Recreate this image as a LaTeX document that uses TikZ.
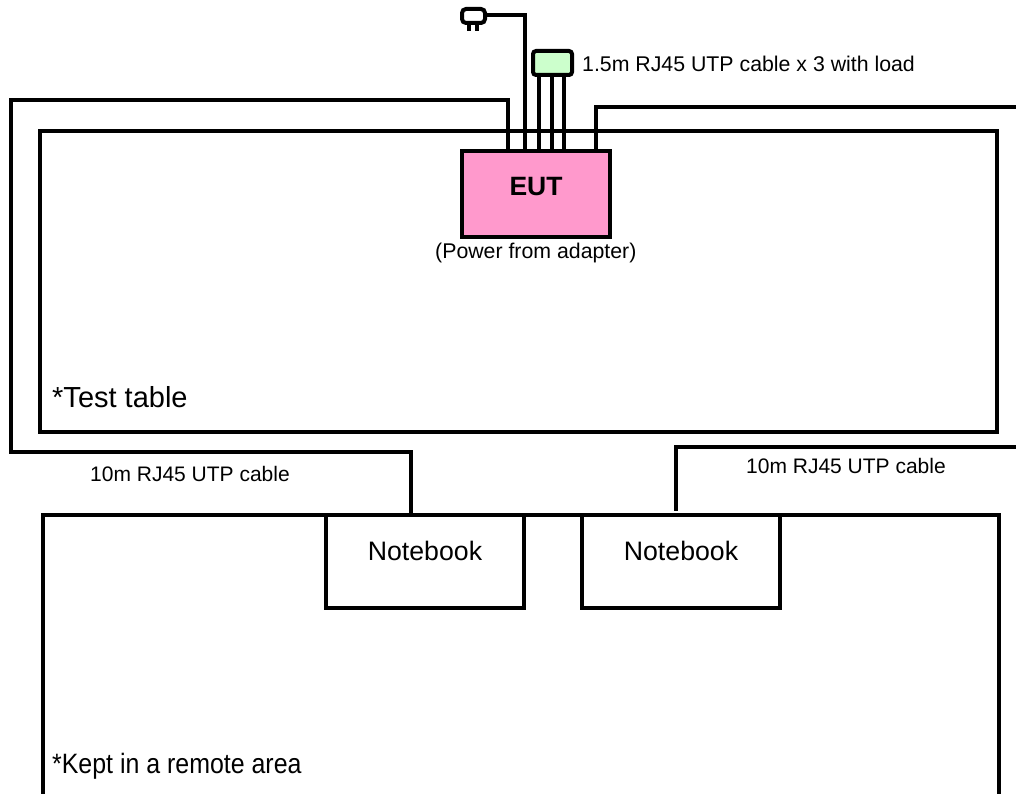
\documentclass[tikz,border=0pt]{standalone}
\usepackage{fontspec}
\setmainfont{Liberation Sans}
\usepackage{tikz}
\usetikzlibrary{positioning}
\definecolor{ColEut}{RGB}{255,153,204}
\definecolor{ColLoad}{RGB}{204,255,204}
\tikzstyle{BoxArea}=[draw=black,line width=4pt,rectangle,inner sep=0pt,outer sep=0pt,anchor=north west]
\tikzstyle{BoxEut}=[BoxArea,fill=ColEut,minimum width=148pt,minimum height=86pt]
\tikzstyle{BoxBook}=[BoxArea,fill=white,minimum width=198pt,minimum height=93pt]
\tikzstyle{BoxLoad}=[BoxArea,fill=ColLoad,rounded corners=3pt,minimum width=39pt,minimum height=24pt]
\tikzstyle{BoxPlug}=[BoxArea,fill=white,rounded corners=4pt,minimum width=23pt,minimum height=14pt]
\tikzstyle{Cable}=[black,line width=4pt,line join=miter]
\tikzstyle{LabelSmall}=[font=\fontsize{21.3}{24}\selectfont,inner sep=0pt,anchor=west]
\tikzstyle{LabelBig}=[font=\fontsize{26.7}{30}\selectfont,inner sep=0pt,anchor=west]

\begin{document}
\begin{tikzpicture}[x=1pt,y=-1pt]
        \useasboundingbox(0,0)rectangle(1016,794);
        \clip(0,0)rectangle(1016,794);
        % areas
        \node[BoxArea,minimum width=957pt,minimum height=301pt](table)at(40,131){};
        \node[BoxArea,minimum width=956pt,minimum height=320pt](remote)at(43,515){};
        \node[LabelBig,font=\fontsize{29}{30}\selectfont](tabletext)at(52,397){*Test table};
        \node[LabelBig,font=\fontsize{28}{30}\selectfont,xscale=.89,transform shape](remotetext)at(52,766){*Kept in a remote area};
        % devices
        \node[BoxBook](nba)at(326,515){};
        \node[BoxBook](nbb)at(582,515){};
        \node[LabelBig,anchor=center](nbatext)at(425,550.5){Notebook};
        \node[LabelBig,anchor=center](nbbtext)at(681,550.5){Notebook};
        \node[BoxLoad](load)at(533,51){};
        \node[BoxPlug](plug)at(462,9){};
        % cables
        \coordinate(lefta)at(508,100);
        \coordinate(leftb)at(11,100);
        \coordinate(leftc)at(11,452);
        \coordinate(leftd)at(411,452);
        \coordinate(righta)at(596,107);
        \coordinate(rightb)at(1020,107);
        \coordinate(lowa)at(1020,447);
        \coordinate(lowb)at(676,447);
        \coordinate(lowc)at(676,511);
        \coordinate(powa)at(525,15);
        \draw[Cable](508,151)--(lefta)--(leftb)--(leftc)--(leftd)--(leftd|-remote.north);
        \draw[Cable](596,151)--(righta)--(rightb);
        \draw[Cable](lowa)--(lowb)--(lowc);
        \draw[Cable](plug.east|-powa)--(powa)--(525,151);
        \draw[Cable](539,75)--(539,151);
        \draw[Cable](552,75)--(552,151);
        \draw[Cable](564,75)--(564,151);
        \draw[line width=4pt](469,23)--(469,31);
        \draw[line width=4pt](477,23)--(477,31);
        \node[BoxEut](eut)at(461.5,151){};
        \node[font=\bfseries\fontsize{26.5}{30}\selectfont,inner sep=0pt](euttext)at(536,187){EUT};
        % labels
        \node[LabelSmall](eutnote)at(435,253){(Power from adapter)};
        \node[LabelSmall](loadtext)at(582,64){1.5m RJ45 UTP cable x 3 with load};
        \node[LabelSmall,font=\fontsize{21}{24}\selectfont](cablea)at(90,474){10m RJ45 UTP cable};
        \node[LabelSmall,font=\fontsize{21}{24}\selectfont](cableb)at(746,466){10m RJ45 UTP cable};
    \end{tikzpicture}
\end{document}
